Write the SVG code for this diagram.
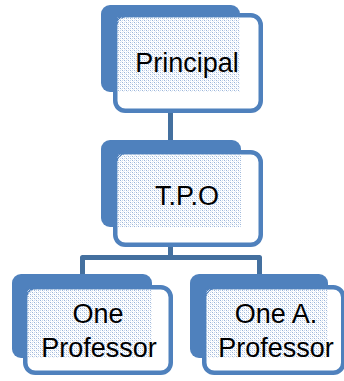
<svg xmlns="http://www.w3.org/2000/svg" width="344" height="381" viewBox="0 0 344 381">
<style>
.back{fill:#4F81BD;}
.front{fill:#FFFFFF;stroke:#4F81BD;stroke-width:4.5;}
.tex{fill:url(#dots);}
.conn{fill:none;stroke:#44709F;stroke-width:5;stroke-linejoin:round;}
.lbl{font-family:"Liberation Sans",Arial,sans-serif;font-size:27px;fill:#000;text-anchor:middle;}
</style>
<defs>
<pattern id="dots" width="4" height="4" patternUnits="userSpaceOnUse">
<rect x="0" y="0" width="1" height="1" fill="#9AB4D9"/>
<rect x="2" y="2" width="1" height="1" fill="#9AB4D9"/>
<rect x="2" y="0" width="1" height="1" fill="#C9D8EC"/>
<rect x="0" y="2" width="1" height="1" fill="#C9D8EC"/>
<rect x="1" y="1" width="1" height="1" fill="#E3EBF5"/>
<rect x="3" y="3" width="1" height="1" fill="#E3EBF5"/>
</pattern>
</defs>
<g id="connectors">
<path class="conn" d="M170.5,108 V150"/>
<path class="conn" d="M170.5,244 V257.5 H82.5 V286"/>
<path class="conn" d="M170.5,257.5 H259.5 V286"/>
</g>
<g id="principal">
<rect class="back" x="101" y="5" width="139" height="87" rx="9"/>
<rect class="front" x="115.25" y="15.25" width="145.5" height="95.5" rx="10"/>
<rect class="tex" x="117.5" y="17.5" width="122.5" height="74.5"/>
<text class="lbl" x="187" y="72">Principal</text>
</g>
<g id="tpo">
<rect class="back" x="101" y="140" width="140" height="87" rx="9"/>
<rect class="front" x="115.25" y="152.25" width="145.5" height="92.5" rx="10"/>
<rect class="tex" x="117.5" y="154.5" width="123.5" height="72.5"/>
<text class="lbl" x="187" y="205">T.P.O</text>
</g>
<g id="one-professor">
<rect class="back" x="12" y="274" width="140" height="84" rx="9"/>
<rect class="front" x="25.25" y="287.25" width="145.5" height="85.5" rx="10"/>
<rect class="tex" x="27.5" y="289.5" width="124.5" height="68.5"/>
<text class="lbl" x="98" y="323">One</text>
<text class="lbl" x="99" y="357">Professor</text>
</g>
<g id="one-a-professor">
<rect class="back" x="190" y="274" width="138" height="84" rx="9"/>
<rect class="front" x="204.25" y="287.25" width="139" height="85.5" rx="10"/>
<rect class="tex" x="206.5" y="289.5" width="121.5" height="68.5"/>
<text class="lbl" x="276" y="323">One A.</text>
<text class="lbl" x="276" y="357">Professor</text>
</g>
</svg>
